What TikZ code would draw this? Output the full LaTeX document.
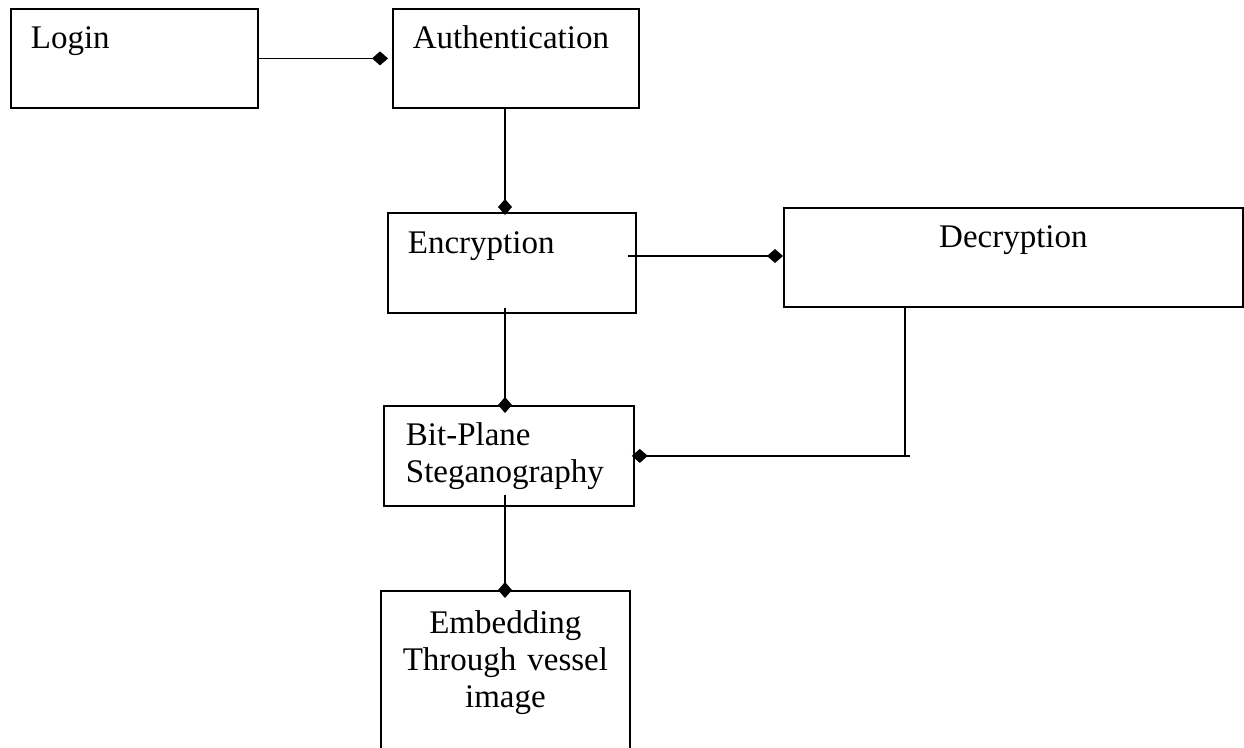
\documentclass[tikz,border=0pt]{standalone}
\usepackage{fontspec}
\setmainfont{Liberation Serif}
\usetikzlibrary{arrows.meta}

\begin{document}
\begin{tikzpicture}[x=1pt, y=-1pt,
  box/.style={draw, line width=1.8pt, anchor=north west, inner xsep=20pt, inner ysep=0pt, text height=40pt, text depth=59pt, font=\fontsize{33}{37}\selectfont},
  link/.style={line width=1.8pt, -{Diamond[length=16pt,width=14pt]}}]
\useasboundingbox (0,0) rectangle (1244,747);
\clip (0,0) rectangle (1244,747);
\node[box, text width=207pt, align=left] (login) at (10,8) {Login};
\node[box, text width=206pt, align=left] (auth) at (392,8) {Authentication};
\node[box, text width=208pt, align=left, text height=41pt] (encrypt) at (387,212) {Encryption};
\node[box, text width=419pt, align=center] (decrypt) at (783,207) {Decryption};
\node[box, text width=206pt, inner xsep=22pt, align=left, text depth=60pt] (bitplane) at (383,405) {Bit-Plane\\Steganography};
\node[box, text width=209pt, align=center, text height=43pt, text depth=180pt] (embed) at (380,590) {Embedding\\Through vessel\\image};
\coordinate (spine) at (505,0);
\coordinate (rail) at (905,0);
\coordinate (railend) at (910,0);
\coordinate (encout) at (628,256);
\draw[link, shorten >=4pt] (login.east) -- (auth.west);
\draw[link, shorten >=-3pt] (auth.south -| spine) -- (encrypt.north -| spine);
\draw[link] (encout) -- (encout -| decrypt.west);
\draw[link, shorten >=-8pt] ([yshift=6pt]encrypt.south -| spine) -- (bitplane.north -| spine);
\draw[line width=1.8pt] (decrypt.south -| rail) -- (rail |- bitplane.east);
\draw[link, shorten >=-3pt] (railend |- bitplane.east) -- (bitplane.east);
\draw[link, shorten >=-8pt] ([yshift=12pt]bitplane.south -| spine) -- (embed.north -| spine);
\end{tikzpicture}
\end{document}
